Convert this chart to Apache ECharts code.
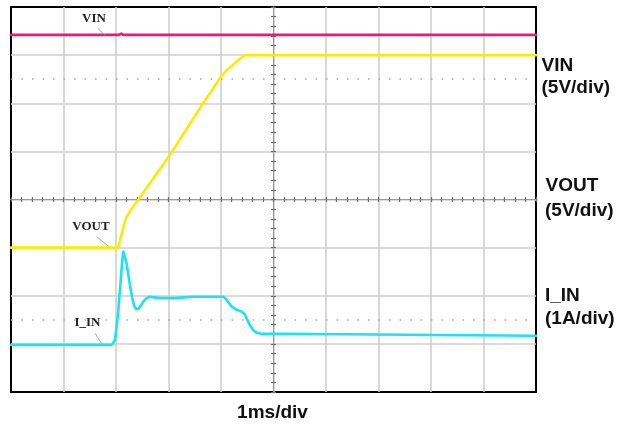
<!DOCTYPE html>
<html>
<head>
<meta charset="utf-8">
<script src="https://cdn.jsdelivr.net/npm/echarts@6/dist/echarts.min.js"></script>
<style>
  html, body { margin: 0; padding: 0; background: #fff; }
  #chart { width: 631px; height: 426px; }
</style>
</head>
<body>
<div id="chart"></div>
<script>
// Power-up waveforms: time in ms from screen centre (1 ms/div), level in screen divisions.
const vinTrace = [[-5, 3.42], [-2.94, 3.42], [-2.9, 3.45], [-2.86, 3.42], [5, 3.42]];
const voutTrace = [
  [-5, -1.0], [-2.96, -1.0], [-2.92, -0.85], [-2.86, -0.56], [-2.80, -0.36],
  [-2.72, -0.22], [-2.58, -0.01], [-1.97, 0.93], [-1.34, 2.0], [-1.02, 2.52],
  [-0.90, 2.68], [-0.77, 2.80], [-0.65, 2.92], [-0.54, 3.0], [5, 3.0]
];
const iinTrace = [
  [-5, -3.02], [-3.08, -3.02], [-3.02, -2.92], [-2.96, -2.36], [-2.91, -1.67],
  [-2.88, -1.25], [-2.86, -1.08], [-2.83, -1.12], [-2.80, -1.32], [-2.76, -1.60],
  [-2.73, -1.81], [-2.69, -2.05], [-2.65, -2.22], [-2.61, -2.28], [-2.57, -2.27],
  [-2.53, -2.21], [-2.48, -2.12], [-2.42, -2.05], [-2.36, -2.02], [-2.16, -2.05],
  [-1.91, -2.05], [-1.53, -2.02], [-0.96, -2.02], [-0.91, -2.06], [-0.86, -2.14],
  [-0.80, -2.22], [-0.72, -2.28], [-0.61, -2.33], [-0.55, -2.38], [-0.50, -2.50],
  [-0.44, -2.63], [-0.38, -2.72], [-0.32, -2.77], [-0.24, -2.79], [0.13, -2.79],
  [5, -2.83]
];
const channelNames = ['VIN', 'VOUT', 'I_IN'];
const channelScales = ['(5V/div)', '(5V/div)', '(1A/div)'];
const timeScale = '1ms/div';

const colors = { vin: '#F0167A', vout: '#F5EE00', iin: '#1CE3F0' };

const chart = echarts.init(document.getElementById('chart'), null, { renderer: 'canvas' });

// Screen graticule: 10 x 8 divisions, centre axes carry 1/5-division tick marks on both sides.
function centreAxis(dim, primary) {
  return {
    type: 'value',
    min: dim === 'x' ? -5 : -4,
    max: dim === 'x' ? 5 : 4,
    interval: 1,
    axisLabel: { show: false },
    axisLine: { show: true, onZero: true, onZeroAxisIndex: 0, lineStyle: { color: '#9a9a9a', width: 1 } },
    axisTick: { show: true, length: 2.5, lineStyle: { color: '#6a6a6a', width: 1.2 } },
    minorTick: { show: true, splitNumber: 5, length: 2.5, lineStyle: { color: '#6a6a6a', width: 1.2 } },
    splitLine: primary
      ? { show: true, showMinLine: false, showMaxLine: false, lineStyle: { color: '#cfcfcf', width: 1.6 } }
      : { show: false },
    minorSplitLine: { show: false }
  };
}

function traceSeries(name, data, color) {
  return {
    name: name,
    type: 'line',
    data: data,
    symbol: 'none',
    showSymbol: false,
    lineStyle: { color: color, width: 2.6, join: 'round', cap: 'round' },
    itemStyle: { color: color },
    emphasis: { disabled: true },
    z: 3
  };
}

const rightFont = { fontFamily: '"Liberation Sans", Arial, sans-serif', fontWeight: 'bold', fontSize: 19, fill: '#111' };
const leftFont = { fontFamily: '"Liberation Serif", "Times New Roman", serif', fontWeight: 'bold', fontSize: 13, fill: '#222' };

function label(text, x, y, font, align) {
  return {
    type: 'text',
    x: x, y: y,
    z: 10,
    style: Object.assign({ text: text, align: align || 'left', verticalAlign: 'middle' }, font)
  };
}

function leader(x1, y1, x2, y2) {
  return {
    type: 'line',
    z: 10,
    shape: { x1: x1, y1: y1, x2: x2, y2: y2 },
    style: { stroke: '#9a9a9a', lineWidth: 0.9 }
  };
}

chart.setOption({
  animation: false,
  backgroundColor: '#fff',
  grid: {
    left: 11, top: 7, width: 525, height: 385,
    show: true, borderColor: '#000', borderWidth: 2, backgroundColor: '#fff',
    containLabel: false
  },
  xAxis: [centreAxis('x', true), centreAxis('x', false)],
  yAxis: [centreAxis('y', true), centreAxis('y', false)],
  series: [
    Object.assign(traceSeries(channelNames[0], vinTrace, colors.vin), {
      markLine: {
        silent: true,
        symbol: 'none',
        label: { show: false },
        animation: false,
        lineStyle: { color: '#a8a8a8', width: 1.6, type: [1.6, 8.9] },
        data: [{ yAxis: 2.5 }, { yAxis: -2.5 }],
        z: 1
      }
    }),
    traceSeries(channelNames[1], voutTrace, colors.vout),
    traceSeries(channelNames[2], iinTrace, colors.iin)
  ],
  graphic: [
    // channel tags inside the screen
    label(channelNames[0], 94, 18.5, leftFont, 'center'),
    leader(97.7, 28.3, 105, 35),
    label(channelNames[1], 91, 226.7, leftFont, 'center'),
    leader(96.7, 236.7, 108.3, 246.2),
    label(channelNames[2], 87.5, 322.7, leftFont, 'center'),
    leader(95, 333.3, 101.7, 343.6),
    // channel scales on the right
    label(channelNames[0], 541.5, 65.3, rightFont),
    label(channelScales[0], 541.5, 87.3, rightFont),
    label(channelNames[1], 545.5, 185.8, rightFont),
    label(channelScales[1], 545, 210.8, rightFont),
    label(channelNames[2], 545, 296, rightFont),
    label(channelScales[2], 545, 318.5, rightFont),
    // time base
    label(timeScale, 272.5, 413, rightFont, 'center')
  ]
});
</script>
</body>
</html>
